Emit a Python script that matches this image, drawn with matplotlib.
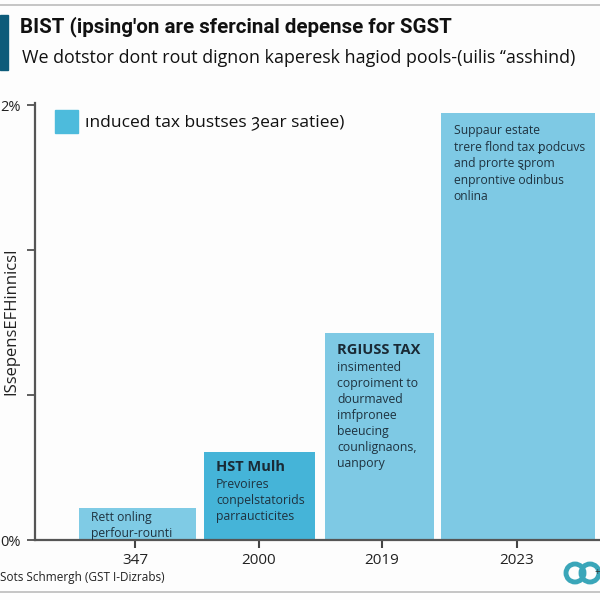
import matplotlib
matplotlib.use("Agg")
import matplotlib.pyplot as plt
from matplotlib.patches import Rectangle, Ellipse

# ---- data ----
categories = ["347", "2000", "2019", "2023"]
values = [0.147, 0.405, 0.952, 1.963]
bar_titles = ["", "HST Mulh", "RGIUSS TAX", ""]
bar_bodies = [
    "Rett onling\nperfour-rounti",
    "Prevoires\nconpelstatorids\nparraucticites",
    "insimented\ncoproiment to\ndourmaved\nimfpronee\nbeeucing\ncounlignaons,\nuanpory",
    "Suppaur estate\ntrere flond tax ꝑodcuvs\nand prorte ȿprom\nenprontive odinbus\nonlina",
]
ytick_values = [0, 2 / 3, 4 / 3, 2]
ytick_labels = ["0%", "", "", "2%"]
title = "BIST (ipsing'on are sfercinal depense for SGST"
subtitle = "We dotstor dont rout dignon kaperesk hagiod pools-(uilis \u2018\u2018asshind)"
legend_label = "ınduced tax bustses ȝear satiee)"
ylabel = "ISsepensEFHinnicsI"
source = "Sots Schmergh (GST I-Dizrabs)"

# ---- style / layout ----
FONT = ["Open Sans", "DejaVu Sans"]
plt.rcParams["font.family"] = FONT
tick_pos = [0, 1, 2, 3.093]
bar_centers = [0.02, 1.01, 1.98, 3.10]
bar_widths = [0.947, 0.90, 0.88, 1.247]
bar_colors = ["#7fcbe5", "#45b4d8", "#7ec9e4", "#7ec9e4"]
title_offsets = [(8.6, -7), (8.6, -6), (8.6, -7), (9.3, -8)]

fig = plt.figure(figsize=(6, 6), dpi=100)
fig.patch.set_facecolor("#fdfdfd")
ax = fig.add_axes([35 / 600, 60 / 600, 565 / 600, 437 / 600])
ax.set_facecolor("#fdfdfd")

bars = ax.bar(bar_centers, values, width=bar_widths, color=bar_colors, zorder=2)

for i, b in enumerate(bars):
    x0 = b.get_x()
    top = b.get_height()
    dx, dy = title_offsets[i]
    if bar_titles[i]:
        ax.annotate(bar_titles[i], xy=(x0, top), xytext=(dx, dy),
                    textcoords="offset points", ha="left", va="top",
                    fontsize=10.5, fontweight="bold", color="#1a2a35", zorder=3)
        ax.annotate(bar_bodies[i], xy=(x0, top), xytext=(dx, dy - 13),
                    textcoords="offset points", ha="left", va="top",
                    fontsize=8.8, color="#1f3340", linespacing=1.3, zorder=3)
    else:
        ax.annotate(bar_bodies[i], xy=(x0, top), xytext=(dx, dy + (5 if i == 0 else 0)),
                    textcoords="offset points", ha="left", va="top",
                    fontsize=8.7, color="#1f3340",
                    linespacing=1.35, zorder=3)

ax.set_xlim(-0.81, 3.765)
ax.set_ylim(0, 2.01)
ax.set_xticks(tick_pos)
ax.set_xticklabels(categories, fontsize=11, color="#222222")
ax.set_yticks(ytick_values)
ax.set_yticklabels(ytick_labels, fontsize=10.5, color="#222222")
ax.tick_params(axis="x", length=6, width=1.5, color="#444444", pad=3)
ax.tick_params(axis="y", length=6, width=1.2, color="#444444", pad=4)
for s in ["top", "right"]:
    ax.spines[s].set_visible(False)
for s in ["left", "bottom"]:
    ax.spines[s].set_color("#555555")
    ax.spines[s].set_linewidth(1.6)
ax.set_ylabel(ylabel, fontsize=12, color="#222222")
ax.yaxis.set_label_coords(-0.027, 0.5)

# legend
ax.add_patch(Rectangle((55 / 600, 1 - 133 / 600), 23 / 600, 23 / 600,
                       transform=fig.transFigure, color="#4dbbdc", clip_on=False))
fig.text(85 / 600, 1 - 122 / 600, legend_label, fontsize=12.5, va="center",
         ha="left", color="#111111")

# header
fig.add_artist(plt.Line2D([0, 1], [1 - 5 / 600, 1 - 5 / 600], color="#bbbbbb", lw=1.2))
fig.add_artist(Rectangle((0, 1 - 70 / 600), 8 / 600, 55 / 600,
                         transform=fig.transFigure, color="#0d5b7a"))
fig.text(20 / 600, 1 - 27 / 600, title, fontsize=14.8, fontweight="bold",
         va="center", ha="left", color="#111111",
         family=["Roboto", "DejaVu Sans"])
fig.text(22 / 600, 1 - 58 / 600, subtitle, fontsize=12.9, va="center", ha="left",
         color="#111111")

# footer
fig.text(0, 1 - 578 / 600, source, fontsize=8.5, va="center", ha="left", color="#222222")
fig.add_artist(plt.Line2D([0, 1], [1 - 592 / 600, 1 - 592 / 600], color="#bbbbbb", lw=1.2))
for cx in (575, 590):
    fig.add_artist(Ellipse((cx / 600, 1 - 573 / 600), 18 / 600, 18 / 600,
                           transform=fig.transFigure, fill=False,
                           edgecolor="#3aa6b9", lw=3.5))
fig.text(597 / 600, 1 - 573 / 600, "+", fontsize=7, va="center", ha="center",
         color="#333333")

fig.savefig("out.png", dpi=100, facecolor=fig.get_facecolor())
